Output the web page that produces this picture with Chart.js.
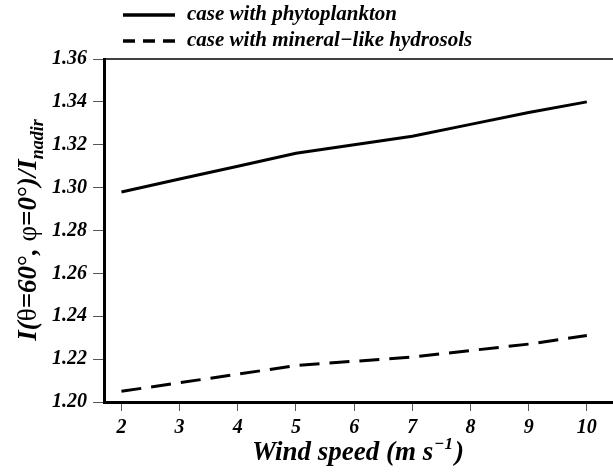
<!DOCTYPE html>
<html>
<head>
<meta charset="utf-8">
<script src="https://cdn.jsdelivr.net/npm/chart.js@4"></script>
<style>
  html, body { margin: 0; padding: 0; background: #fff; }
  #wrap { width: 613px; height: 473px; position: relative; }
</style>
</head>
<body>
<div id="wrap"><canvas id="c"></canvas></div>
<script>
const windSpeed = [2, 3, 4, 5, 6, 7, 8, 9, 10];
const phytoplankton = [1.298, 1.304, 1.310, 1.316, 1.320, 1.324, 1.3295, 1.335, 1.340];
const mineralHydrosols = [1.205, 1.209, 1.213, 1.217, 1.219, 1.221, 1.224, 1.227, 1.231];
const seriesLabels = ['case with phytoplankton', 'case with mineral\u2212like hydrosols'];
// y title pieces: [text, upright?]
const yTitlePieces = [['I(', false], ['\u03B8', true], ['=60', false], ['\u00B0', true], [', ', false], ['\u03C6', true], ['=0', false], ['\u00B0', true], [')/I', false]];
const yTitleSub = 'nadir';
const xTitleMain = 'Wind speed (m s';
const xTitleSup = '\u22121';
const xTitleEnd = ')';

const FONT = '"Liberation Serif", "DejaVu Serif", serif';

function pts(ys) { return windSpeed.map((x, i) => ({ x: x, y: ys[i] })); }

const decor = {
  id: 'decor',
  afterDraw(chart) {
    const ctx = chart.ctx;
    const ca = chart.chartArea;
    ctx.save();
    // top frame line
    ctx.strokeStyle = '#000';
    ctx.lineWidth = 1.5;
    ctx.beginPath();
    ctx.moveTo(ca.left, ca.top);
    ctx.lineTo(ca.right, ca.top);
    ctx.stroke();

    // legend
    chart.data.datasets.forEach((ds, i) => {
      const y = 15 + i * 26;
      ctx.lineWidth = 3.5;
      ctx.setLineDash(i === 0 ? [] : [12, 8]);
      ctx.beginPath();
      ctx.moveTo(123, y);
      ctx.lineTo(175, y);
      ctx.stroke();
      ctx.setLineDash([]);
      ctx.fillStyle = '#000';
      ctx.font = 'italic bold 21px ' + FONT;
      ctx.textBaseline = 'middle';
      ctx.textAlign = 'left';
      ctx.fillText(ds.label, 187, y);
    });

    // y title
    ctx.save();
    ctx.translate(36, 230);
    ctx.rotate(-Math.PI / 2);
    const fIt = 'italic bold 27px ' + FONT;
    const fUp = '27px ' + FONT;
    const fSub = 'italic bold 18px ' + FONT;
    let total = 0;
    const widths = yTitlePieces.map(([t, up]) => {
      ctx.font = up ? fUp : fIt;
      const w = ctx.measureText(t).width;
      total += w;
      return w;
    });
    ctx.font = fSub;
    const wSub = ctx.measureText(yTitleSub).width;
    total += wSub;
    ctx.textBaseline = 'alphabetic';
    ctx.textAlign = 'left';
    let px = -total / 2;
    yTitlePieces.forEach(([t, up], i) => {
      ctx.font = up ? fUp : fIt;
      ctx.fillText(t, px, 0);
      px += widths[i];
    });
    ctx.font = fSub;
    ctx.fillText(yTitleSub, px, 7);
    ctx.restore();

    // x title
    const xf = 'italic bold 27px ' + FONT;
    const xs = 'italic bold 17px ' + FONT;
    ctx.font = xf;
    const a = ctx.measureText(xTitleMain).width;
    const c = ctx.measureText(xTitleEnd).width;
    ctx.font = xs;
    const b = ctx.measureText(xTitleSup).width;
    const tot = a + b + c + 3;
    let x0 = 358 - tot / 2;
    const yb = 460;
    ctx.textBaseline = 'alphabetic';
    ctx.textAlign = 'left';
    ctx.font = xf;
    ctx.fillText(xTitleMain, x0, yb);
    ctx.font = xs;
    ctx.fillText(xTitleSup, x0 + a + 1, yb - 11);
    ctx.font = xf;
    ctx.fillText(xTitleEnd, x0 + a + b + 3, yb);
    ctx.restore();
  }
};

new Chart(document.getElementById('c'), {
  type: 'line',
  data: {
    datasets: [
      { label: seriesLabels[0], data: pts(phytoplankton), borderColor: '#000', borderWidth: 3, pointRadius: 0, tension: 0, fill: false },
      { label: seriesLabels[1], data: pts(mineralHydrosols), borderColor: '#000', borderWidth: 3, borderDash: [20, 10], pointRadius: 0, tension: 0, fill: false }
    ]
  },
  options: {
    responsive: true,
    maintainAspectRatio: false,
    animation: false,
    layout: { padding: { top: 59, left: 0, right: 0, bottom: 0 } },
    plugins: { legend: { display: false }, tooltip: { enabled: false } },
    scales: {
      x: {
        type: 'linear',
        min: 1.7,
        max: 10.45,
        afterFit(s) { s.height = 71; },
        ticks: { stepSize: 1, includeBounds: false, color: '#000', padding: 5,
                 font: { family: FONT, size: 20, weight: 'bold', style: 'italic' } },
        grid: { drawOnChartArea: false, tickLength: 9, color: '#555', lineWidth: 1 },
        border: { color: '#000', width: 3 }
      },
      y: {
        min: 1.2,
        max: 1.36,
        afterFit(s) { s.width = 104; },
        ticks: { stepSize: 0.02, color: '#000', padding: 6,
                 callback: v => Number(v).toFixed(2),
                 font: { family: FONT, size: 20, weight: 'bold', style: 'italic' } },
        grid: { drawOnChartArea: false, tickLength: 11, color: '#555', lineWidth: 1 },
        border: { color: '#000', width: 3 }
      }
    }
  },
  plugins: [decor]
});
</script>
</body>
</html>
